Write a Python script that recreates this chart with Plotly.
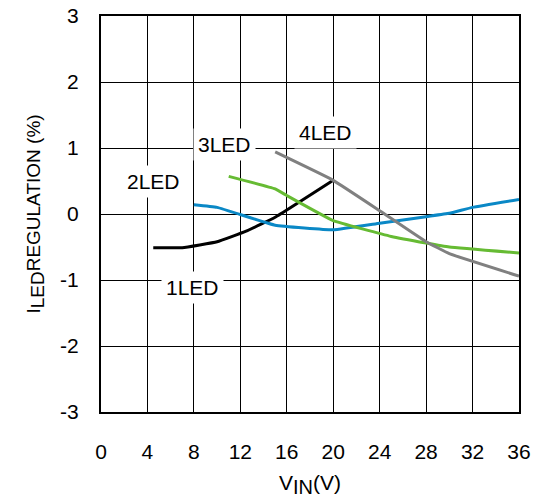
import plotly.graph_objects as go

# Data
x_1led = [4.5, 7, 10, 12.5, 15, 20]
y_1led = [-0.51, -0.51, -0.42, -0.26, -0.05, 0.51]

x_2led = [8, 10, 15, 20, 24, 28, 30, 32, 36]
y_2led = [0.14, 0.10, -0.17, -0.24, -0.14, -0.04, 0.01, 0.10, 0.22]

x_3led = [11, 15, 16, 20, 25, 28, 30, 36]
y_3led = [0.57, 0.38, 0.28, -0.10, -0.34, -0.44, -0.50, -0.59]

x_4led = [15, 20, 24, 28, 30, 36]
y_4led = [0.94, 0.51, 0.05, -0.42, -0.60, -0.94]

x_ticks = [0, 4, 8, 12, 16, 20, 24, 28, 32, 36]
y_ticks = [-3, -2, -1, 0, 1, 2, 3]
y_ticktext = ["-3", "-2", "-1", "0", "1", "2", "3"]

series = [
    ("1LED", x_1led, y_1led, "#000000"),
    ("2LED", x_2led, y_2led, "#0a88c6"),
    ("3LED", x_3led, y_3led, "#66bb33"),
    ("4LED", x_4led, y_4led, "#808080"),
]

# label positions (data coords)
label_pos = {
    "1LED": (7.85, -1.12),
    "2LED": (4.5, 0.49),
    "3LED": (10.6, 1.05),
    "4LED": (19.3, 1.23),
}

FONT = "Liberation Sans, Arial, sans-serif"

fig = go.Figure()
for name, xs, ys, col in series:
    fig.add_trace(go.Scatter(x=xs, y=ys, mode="lines", name=name,
                             line=dict(color=col, width=3, shape="spline", smoothing=0.3),
                             showlegend=False))

for name, (lx, ly) in label_pos.items():
    fig.add_annotation(x=lx, y=ly, text=name, showarrow=False,
                       bgcolor="white", borderpad=4,
                       font=dict(family=FONT, size=21, color="black"))

fig.update_layout(
    width=544, height=502,
    margin=dict(l=101, r=25, t=16, b=90),
    paper_bgcolor="white", plot_bgcolor="white",
    font=dict(family=FONT, size=21, color="black"),
)
fig.update_xaxes(range=[0, 36], tickvals=x_ticks, ticks="", showgrid=True,
                 gridcolor="#000000", gridwidth=1, zeroline=False,
                 showline=True, linecolor="black", linewidth=2, mirror=True,
                 ticklabelstandoff=20, tickfont=dict(family=FONT, size=21),
                 title=dict(text='V<sub><span style="font-size:20px">IN</span></sub>(V)',
                            standoff=13, font=dict(family=FONT, size=21)),
                 automargin=False)
fig.update_yaxes(range=[-3, 3], tickvals=y_ticks, ticktext=y_ticktext, ticks="",
                 showgrid=True, gridcolor="#000000", gridwidth=1, zeroline=False,
                 showline=True, linecolor="black", linewidth=2, mirror=True,
                 ticklabelstandoff=16, tickfont=dict(family=FONT, size=21),
                 title=dict(text='I<sub><span style="font-size:19px">LED</span></sub>REGULATION (%)',
                            standoff=14, font=dict(family=FONT, size=19)),
                 automargin=False)

fig.write_html("out.html", config={"displayModeBar": False},
               post_script="document.body.style.margin='0px';")
